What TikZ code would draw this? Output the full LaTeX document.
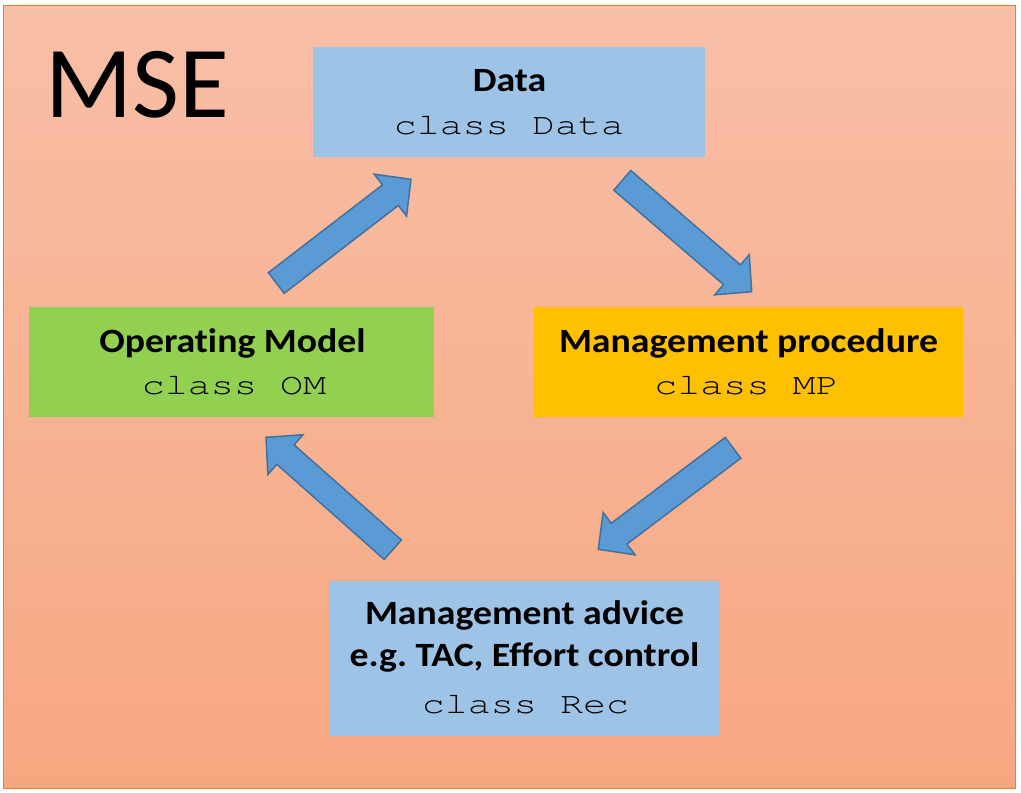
\documentclass[tikz,border=0pt]{standalone}
\usepackage[T1]{fontenc}
\usepackage{fontspec}
\usepackage{graphicx}
\setmainfont{Carlito}[Ligatures=NoCommon]
\usetikzlibrary{calc}
\frenchspacing
\definecolor{bgtop}{HTML}{F8BFA7}
\definecolor{bgbot}{HTML}{F7A780}
\definecolor{bgline}{HTML}{ED7D31}
\definecolor{cblue}{HTML}{9DC3E6}
\definecolor{cgreen}{HTML}{92D050}
\definecolor{cgold}{HTML}{FFC000}
\definecolor{afill}{HTML}{5B9BD5}
\definecolor{aline}{HTML}{41719C}
\newcommand\cmono{\fontencoding{T1}\fontfamily{pcr}\selectfont}
\newcommand\ttl[1]{\scalebox{1.11}[1]{\fontsize{34}{40}\selectfont\bfseries #1}}
\newcommand\cls[1]{\scalebox{1.28}[1]{\fontsize{30}{36}\cmono #1}}
\newcommand\blockarrow[2]{%
  \coordinate (#2n) at ($(#2)!26pt!(#1)$);
  \draw[barrow] ($(#1)!13pt!90:(#2)$) -- ($(#2n)!13pt!90:(#2)$) -- ($(#2n)!26.5pt!90:(#2)$)
    -- (#2) -- ($(#2n)!26.5pt!-90:(#2)$) -- ($(#2n)!13pt!-90:(#2)$) -- ($(#1)!13pt!-90:(#2)$) -- cycle;}
\tikzset{
  box/.style={rectangle, inner sep=0pt, outer sep=0pt},
  txt/.style={anchor=base, inner sep=0pt, outer sep=0pt},
  barrow/.style={fill=afill, draw=aline, line width=1.5pt, line join=miter},
}
\begin{document}
\begin{tikzpicture}[x=1pt,y=-1pt]
\path[use as bounding box, fill=white] (0,0) rectangle (1021,793);
\shade[top color=bgtop, bottom color=bgbot] (3.5,5.5) rectangle (1015.5,788.5);
\draw[bgline, line width=1.5pt] (3.5,5.5) rectangle (1015.5,788.5);
\node[anchor=base west, inner sep=0pt] (mse) at (45,117) {\fontsize{102}{112}\selectfont MSE};
% boxes
\node[box, fill=cblue, minimum width=392pt, minimum height=110pt] (data) at (509,102) {};
\node[box, fill=cgreen, minimum width=405pt, minimum height=110pt] (om) at (231.5,362) {};
\node[box, fill=cgold, minimum width=429pt, minimum height=110pt] (mp) at (748.5,362) {};
\node[box, fill=cblue, minimum width=391pt, minimum height=155pt] (rec) at (524.5,658.5) {};
% texts
\node[txt] (dataT) at (509.5,91) {\ttl{Data}};
\node[txt] (dataC) at (509,134) {\cls{class Data}};
\node[txt] (omT) at (232.5,352) {\ttl{Operating Model}};
\node[txt] (omC) at (234,394) {\cls{class OM}};
\node[txt] (mpT) at (748.5,352) {\ttl{Management procedure}};
\node[txt] (mpC) at (746.5,394) {\cls{class MP}};
\node[txt] (recT) at (524.5,624) {\ttl{Management advice}};
\node[txt] (recE) at (524.5,666) {\ttl{e.g. TAC, Effort control}};
\node[txt] (recC) at (525.5,713) {\cls{class Rec}};
% arrows
\coordinate (a1t) at (276.3,283);   \coordinate (a1h) at (411,179.3);
\coordinate (a2t) at (622.3,180.3); \coordinate (a2h) at (751.7,291.7);
\coordinate (a3t) at (733,447.8);   \coordinate (a3h) at (598.3,549.3);
\coordinate (a4t) at (392.8,549.7); \coordinate (a4h) at (266,437.3);
\blockarrow{a1t}{a1h}
\blockarrow{a2t}{a2h}
\blockarrow{a3t}{a3h}
\blockarrow{a4t}{a4h}
\end{tikzpicture}
\end{document}
